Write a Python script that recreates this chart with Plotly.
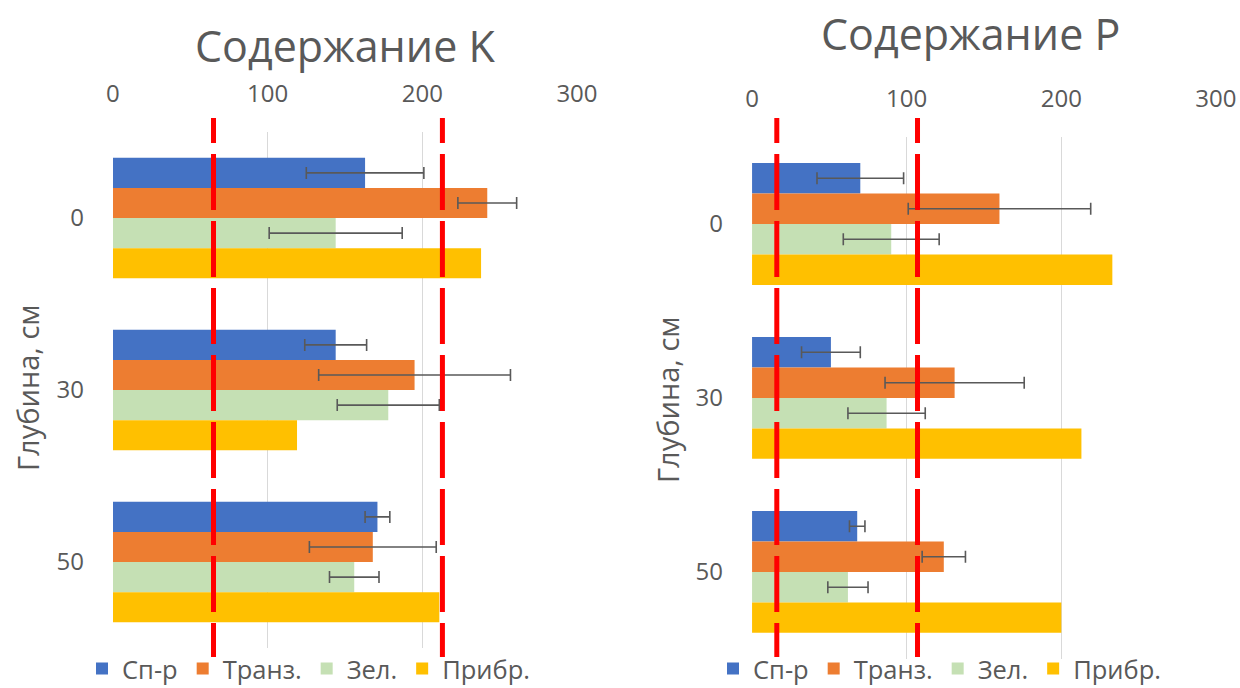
import plotly.graph_objects as go

depths = ["0", "30", "50"]
series = ["Сп-р", "Транз.", "Зел.", "Прибр."]
colors = ["#4472C4", "#ED7D31", "#C5E0B4", "#FFC000"]

# содержание K
k_vals = [
    [163, 144, 171],
    [242, 195, 168],
    [144, 178, 156],
    [238, 119, 211],
]
k_err = [
    [38, 20, 8],
    [19, 62, 41],
    [43, 33, 16],
    None,
]
k_limits = [65, 213]

# содержание P
p_vals = [
    [70, 51, 68],
    [160, 131, 124],
    [90, 87, 62],
    [233, 213, 200],
]
p_err = [
    [28, 19, 5],
    [59, 45, 14],
    [31, 25, 13],
    None,
]
p_limits = [16, 107]

x_ticks = [0, 100, 200, 300]

FONT = "Open Sans"
GREY = "#595959"

fig = go.Figure()


def add_panel(vals, errs, xa, ya, legend):
    for name, col, v, e in zip(series, colors, vals, errs):
        tr = dict(
            x=v, y=depths, name=name, orientation="h",
            marker=dict(color=col, line=dict(width=0)),
            xaxis=xa, yaxis=ya, legend=legend,
        )
        if e is not None:
            tr["error_x"] = dict(type="data", array=e, visible=True,
                                 color=GREY, thickness=1.6, width=6)
        fig.add_trace(go.Bar(**tr))


add_panel(k_vals, k_err, "x", "y", "legend")
add_panel(p_vals, p_err, "x2", "y2", "legend2")

dash = "25px 11px " + " ".join(["56px 11px"] * 9)
for lim in k_limits:
    fig.add_shape(type="line", xref="x", yref="paper", x0=lim, x1=lim,
                  y0=0.8285, y1=0.045, line=dict(color="#FF0000", width=5, dash=dash))
for lim in p_limits:
    fig.add_shape(type="line", xref="x2", yref="paper", x0=lim, x1=lim,
                  y0=0.8285, y1=0.045, line=dict(color="#FF0000", width=5, dash=dash))

xax = dict(range=[0, 300], tickvals=x_ticks, side="top", showgrid=True,
           gridcolor="#D9D9D9", gridwidth=1, zeroline=False, showline=False,
           ticks="", tickfont=dict(size=24, color=GREY, family=FONT),
           ticklabelstandoff=24, fixedrange=True)
yax = dict(autorange="reversed", showgrid=False, zeroline=False, showline=False,
           ticks="", tickfont=dict(size=24, color=GREY, family=FONT),
           ticklabelstandoff=28)

leg = dict(orientation="h", yanchor="middle", y=1 - 669 / 688, xanchor="left",
           font=dict(size=25.5, color=GREY, family=FONT), bgcolor="rgba(0,0,0,0)",
           itemwidth=30, tracegroupgap=0)

ann_font = dict(color=GREY, family=FONT)

fig.update_layout(
    width=1240, height=688,
    margin=dict(l=0, r=0, t=0, b=0, autoexpand=False),
    paper_bgcolor="white", plot_bgcolor="white",
    barmode="group", bargap=0.30, bargroupgap=0,
    font=dict(family=FONT, color=GREY),
    xaxis=dict(domain=[0.0911, 0.4653], anchor="y", **xax),
    yaxis=dict(domain=[0.0581, 0.8081], anchor="x", **yax),
    xaxis2=dict(domain=[0.6065, 0.9806], anchor="y2", **xax),
    yaxis2=dict(domain=[0.0422, 0.8009], anchor="x2", **yax),
    legend=dict(x=82 / 1240, **leg),
    legend2=dict(x=713 / 1240, **leg),
    annotations=[
        dict(text="Содержание K", x=345 / 1240, y=1 - 45 / 688, xref="paper", yref="paper",
             xanchor="center", yanchor="middle", showarrow=False,
             font=dict(size=43, **ann_font)),
        dict(text="Содержание P", x=970 / 1240, y=1 - 34 / 688, xref="paper", yref="paper",
             xanchor="center", yanchor="middle", showarrow=False,
             font=dict(size=43, **ann_font)),
        dict(text="Глубина, см", x=27 / 1240, y=1 - 388 / 688, xref="paper", yref="paper",
             xanchor="center", yanchor="middle", textangle=-90, showarrow=False,
             font=dict(size=29, **ann_font)),
        dict(text="Глубина, см", x=667 / 1240, y=1 - 400 / 688, xref="paper", yref="paper",
             xanchor="center", yanchor="middle", textangle=-90, showarrow=False,
             font=dict(size=29, **ann_font)),
    ],
)

fig.write_html("out.html", config={"displayModeBar": False},
               post_script="document.body.style.margin='0';")
